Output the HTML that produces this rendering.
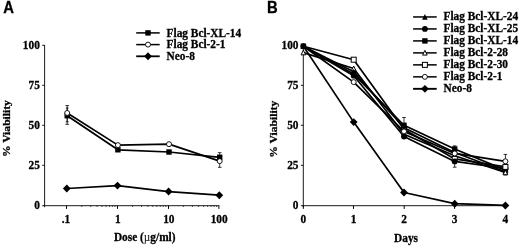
<!DOCTYPE html>
<html><head><meta charset="utf-8"><title>Viability</title>
<style>html,body{margin:0;padding:0;background:#fff}svg{display:block;will-change:transform}text{font-family:"Liberation Serif",serif;font-weight:bold;font-size:12.2px;fill:#000;stroke:#000;stroke-width:0.3px}.s{font-family:"Liberation Sans",sans-serif;font-size:15.6px;stroke-width:0.3px}.r{font-size:11.6px}</style></head><body>
<svg width="520" height="246" viewBox="0 0 520 246">
<path d="M44.6 45V207.2" stroke="#000" stroke-width="0.9" fill="none"/>
<path d="M42.2 205.7H219.3" stroke="#000" stroke-width="0.9" fill="none"/>
<path d="M42.2 165.30H44.6M42.2 125.30H44.6M42.2 85.30H44.6M42.2 45.30H44.6" stroke="#000" stroke-width="0.9" fill="none"/>
<path d="M66.5 205.7V208.89999999999998M117.5 205.7V208.89999999999998M168.5 205.7V208.89999999999998M218.9 205.7V208.89999999999998" stroke="#000" stroke-width="1" fill="none"/>
<path d="M81.79 205.7V207.0M90.74 205.7V207.0M97.08 205.7V207.0M102.01 205.7V207.0M106.03 205.7V207.0M109.43 205.7V207.0M112.38 205.7V207.0M114.98 205.7V207.0M132.59 205.7V207.0M141.54 205.7V207.0M147.88 205.7V207.0M152.81 205.7V207.0M156.83 205.7V207.0M160.23 205.7V207.0M163.18 205.7V207.0M165.78 205.7V207.0M183.39 205.7V207.0M192.34 205.7V207.0M198.68 205.7V207.0M203.61 205.7V207.0M207.63 205.7V207.0M211.03 205.7V207.0M213.98 205.7V207.0M216.58 205.7V207.0" stroke="#000" stroke-width="0.7" fill="none"/>
<text transform="translate(39.80 209.10) scale(0.93 1)" text-anchor="end">0</text>
<text transform="translate(39.80 169.10) scale(0.93 1)" text-anchor="end">25</text>
<text transform="translate(39.80 129.10) scale(0.93 1)" text-anchor="end">50</text>
<text transform="translate(39.80 89.10) scale(0.93 1)" text-anchor="end">75</text>
<text transform="translate(39.80 49.10) scale(0.93 1)" text-anchor="end">100</text>
<text transform="translate(66.00 223.20) scale(0.93 1)" text-anchor="middle">.1</text>
<text transform="translate(117.80 223.20) scale(0.93 1)" text-anchor="middle">1</text>
<text transform="translate(168.80 223.20) scale(0.93 1)" text-anchor="middle">10</text>
<text transform="translate(219.20 223.20) scale(0.93 1)" text-anchor="middle">100</text>
<text transform="translate(144.70 240.60) scale(0.93 1)" text-anchor="middle">Dose (<tspan font-weight="normal" stroke="none">µ</tspan>g/ml)</text>
<text transform="translate(9.70 128.60) rotate(-90) scale(1 0.92)" text-anchor="middle" class="r">% Viability</text>
<text class="s" transform="translate(3.2 12.8) scale(0.95 1)">A</text>
<path d="M67.20 105.60V124.30M65.40 105.60H69.00M65.40 124.30H69.00" stroke="#000" stroke-width="0.8" fill="none"/>
<path d="M67.20 108.00V121.80M65.80 108.00H68.60M65.80 121.80H68.60" stroke="#000" stroke-width="0.8" fill="none"/>
<path d="M219.70 152.70V167.30M217.90 152.70H221.50M217.90 167.30H221.50" stroke="#000" stroke-width="0.8" fill="none"/>
<polyline points="67.20,115.70 117.90,149.78 169.00,152.02 219.70,157.30" fill="none" stroke="#000" stroke-width="1.7" stroke-linejoin="round"/>
<polyline points="67.20,112.98 117.90,145.14 169.00,144.18 219.70,161.14" fill="none" stroke="#000" stroke-width="1.7" stroke-linejoin="round"/>
<polyline points="66.80,188.50 117.50,185.62 168.60,191.54 219.30,195.22" fill="none" stroke="#000" stroke-width="1.7" stroke-linejoin="round"/>
<rect x="64.50" y="113.00" width="5.4" height="5.4" fill="#000" stroke="#000" stroke-width="0"/>
<rect x="115.20" y="147.08" width="5.4" height="5.4" fill="#000" stroke="#000" stroke-width="0"/>
<rect x="166.30" y="149.32" width="5.4" height="5.4" fill="#000" stroke="#000" stroke-width="0"/>
<rect x="217.00" y="154.60" width="5.4" height="5.4" fill="#000" stroke="#000" stroke-width="0"/>
<circle cx="67.20" cy="112.98" r="2.5" fill="#fff" stroke="#000" stroke-width="0.9"/>
<circle cx="117.90" cy="145.14" r="2.5" fill="#fff" stroke="#000" stroke-width="0.9"/>
<circle cx="169.00" cy="144.18" r="2.5" fill="#fff" stroke="#000" stroke-width="0.9"/>
<circle cx="219.70" cy="161.14" r="2.5" fill="#fff" stroke="#000" stroke-width="0.9"/>
<path d="M66.80 184.55L70.70 188.50L66.80 192.45L62.90 188.50Z" fill="#000"/>
<path d="M117.50 181.67L121.40 185.62L117.50 189.57L113.60 185.62Z" fill="#000"/>
<path d="M168.60 187.59L172.50 191.54L168.60 195.49L164.70 191.54Z" fill="#000"/>
<path d="M219.30 191.27L223.20 195.22L219.30 199.17L215.40 195.22Z" fill="#000"/>
<path d="M136.2 32.90H159.7" stroke="#000" stroke-width="1.5"/>
<rect x="145.30" y="30.20" width="5.4" height="5.4" fill="#000" stroke="#000" stroke-width="0"/>
<text transform="translate(166.60 36.50) scale(0.93 1)">Flag Bcl-XL-14</text>
<path d="M136.2 44.60H159.7" stroke="#000" stroke-width="1.5"/>
<circle cx="148.00" cy="44.60" r="2.5" fill="#fff" stroke="#000" stroke-width="0.9"/>
<text transform="translate(166.60 48.20) scale(0.93 1)">Flag Bcl-2-1</text>
<path d="M136.2 56.30H159.7" stroke="#000" stroke-width="1.8"/>
<path d="M148.00 52.35L151.90 56.30L148.00 60.25L144.10 56.30Z" fill="#000"/>
<text transform="translate(166.60 59.90) scale(0.93 1)">Neo-8</text>
<path d="M303.3 45V207.2" stroke="#000" stroke-width="0.9" fill="none"/>
<path d="M300.90000000000003 205.7H505.79999999999995" stroke="#000" stroke-width="0.9" fill="none"/>
<path d="M300.90000000000003 165.30H303.3M300.90000000000003 125.30H303.3M300.90000000000003 85.30H303.3M300.90000000000003 45.30H303.3" stroke="#000" stroke-width="0.9" fill="none"/>
<path d="M303.3 205.7V208.89999999999998M353.5 205.7V208.89999999999998M404.2 205.7V208.89999999999998M454.6 205.7V208.89999999999998M505.4 205.7V208.89999999999998" stroke="#000" stroke-width="1" fill="none"/>
<text transform="translate(298.50 209.10) scale(0.93 1)" text-anchor="end">0</text>
<text transform="translate(298.50 169.10) scale(0.93 1)" text-anchor="end">25</text>
<text transform="translate(298.50 129.10) scale(0.93 1)" text-anchor="end">50</text>
<text transform="translate(298.50 89.10) scale(0.93 1)" text-anchor="end">75</text>
<text transform="translate(298.50 49.10) scale(0.93 1)" text-anchor="end">100</text>
<text transform="translate(303.40 223.20) scale(0.93 1)" text-anchor="middle">0</text>
<text transform="translate(353.70 223.20) scale(0.93 1)" text-anchor="middle">1</text>
<text transform="translate(404.00 223.20) scale(0.93 1)" text-anchor="middle">2</text>
<text transform="translate(454.70 223.20) scale(0.93 1)" text-anchor="middle">3</text>
<text transform="translate(505.40 223.20) scale(0.93 1)" text-anchor="middle">4</text>
<text transform="translate(406.00 241.50) scale(0.93 1)" text-anchor="middle">Days</text>
<text transform="translate(276.80 129.20) rotate(-90) scale(1 0.92)" text-anchor="middle" class="r">% Viability</text>
<text class="s" transform="translate(267.0 12.6) scale(0.95 1)">B</text>
<path d="M404.00 117.50V128.00M402.20 117.50H405.80M402.20 128.00H405.80" stroke="#000" stroke-width="0.8" fill="none"/>
<path d="M454.70 145.90V167.20M452.90 145.90H456.50M452.90 167.20H456.50" stroke="#000" stroke-width="0.8" fill="none"/>
<path d="M505.40 154.40V175.00M503.60 154.40H507.20M503.60 175.00H507.20" stroke="#000" stroke-width="0.8" fill="none"/>
<polyline points="303.40,46.26 353.70,71.70 404.00,127.70 454.70,152.50 505.40,171.70" fill="none" stroke="#000" stroke-width="1.7" stroke-linejoin="round"/>
<polyline points="303.40,46.26 353.70,75.70 404.00,136.50 454.70,161.46 505.40,168.50" fill="none" stroke="#000" stroke-width="1.7" stroke-linejoin="round"/>
<polyline points="303.40,46.26 353.70,74.10 404.00,125.30 454.70,148.98 505.40,170.10" fill="none" stroke="#000" stroke-width="1.7" stroke-linejoin="round"/>
<polyline points="303.40,52.66 353.70,68.50 404.00,134.26 454.70,155.70 505.40,172.50" fill="none" stroke="#000" stroke-width="1.7" stroke-linejoin="round"/>
<polyline points="303.40,46.26 353.70,59.70 404.00,129.30 454.70,158.90 505.40,166.90" fill="none" stroke="#000" stroke-width="1.7" stroke-linejoin="round"/>
<polyline points="303.40,46.26 353.70,82.10 404.00,131.38 454.70,153.46 505.40,161.30" fill="none" stroke="#000" stroke-width="1.7" stroke-linejoin="round"/>
<polyline points="303.40,46.26 353.70,122.10 404.00,192.50 454.70,203.70 505.40,205.46" fill="none" stroke="#000" stroke-width="1.7" stroke-linejoin="round"/>
<path d="M303.40 50.16L305.70 54.86L301.10 54.86Z" fill="#fff" stroke="#000" stroke-width="1"/>
<path d="M303.40 43.26L306.20 48.96L300.60 48.96Z" fill="#000"/>
<circle cx="303.40" cy="46.26" r="2.9" fill="#000" stroke="#000" stroke-width="0"/>
<rect x="300.70" y="43.56" width="5.4" height="5.4" fill="#000" stroke="#000" stroke-width="0"/>
<path d="M353.70 118.15L357.60 122.10L353.70 126.05L349.80 122.10Z" fill="#000"/>
<path d="M353.70 66.00L356.00 70.70L351.40 70.70Z" fill="#fff" stroke="#000" stroke-width="1"/>
<rect x="351.20" y="57.20" width="5.0" height="5.0" fill="#fff" stroke="#000" stroke-width="1"/>
<path d="M353.70 68.70L356.50 74.40L350.90 74.40Z" fill="#000"/>
<circle cx="353.70" cy="75.70" r="2.9" fill="#000" stroke="#000" stroke-width="0"/>
<rect x="351.00" y="71.40" width="5.4" height="5.4" fill="#000" stroke="#000" stroke-width="0"/>
<circle cx="353.70" cy="82.10" r="2.5" fill="#fff" stroke="#000" stroke-width="0.9"/>
<path d="M404.00 188.55L407.90 192.50L404.00 196.45L400.10 192.50Z" fill="#000"/>
<path d="M404.00 131.76L406.30 136.46L401.70 136.46Z" fill="#fff" stroke="#000" stroke-width="1"/>
<rect x="401.50" y="126.80" width="5.0" height="5.0" fill="#fff" stroke="#000" stroke-width="1"/>
<path d="M404.00 124.70L406.80 130.40L401.20 130.40Z" fill="#000"/>
<circle cx="404.00" cy="136.50" r="2.9" fill="#000" stroke="#000" stroke-width="0"/>
<rect x="401.30" y="122.60" width="5.4" height="5.4" fill="#000" stroke="#000" stroke-width="0"/>
<circle cx="404.00" cy="131.38" r="2.5" fill="#fff" stroke="#000" stroke-width="0.9"/>
<path d="M454.70 199.75L458.60 203.70L454.70 207.65L450.80 203.70Z" fill="#000"/>
<path d="M454.70 153.20L457.00 157.90L452.40 157.90Z" fill="#fff" stroke="#000" stroke-width="1"/>
<rect x="452.20" y="156.40" width="5.0" height="5.0" fill="#fff" stroke="#000" stroke-width="1"/>
<path d="M454.70 149.50L457.50 155.20L451.90 155.20Z" fill="#000"/>
<circle cx="454.70" cy="161.46" r="2.9" fill="#000" stroke="#000" stroke-width="0"/>
<rect x="452.00" y="146.28" width="5.4" height="5.4" fill="#000" stroke="#000" stroke-width="0"/>
<circle cx="454.70" cy="153.46" r="2.5" fill="#fff" stroke="#000" stroke-width="0.9"/>
<path d="M505.40 201.51L509.30 205.46L505.40 209.41L501.50 205.46Z" fill="#000"/>
<path d="M505.40 168.70L508.20 174.40L502.60 174.40Z" fill="#000"/>
<circle cx="505.40" cy="168.50" r="2.9" fill="#000" stroke="#000" stroke-width="0"/>
<rect x="502.70" y="167.40" width="5.4" height="5.4" fill="#000" stroke="#000" stroke-width="0"/>
<path d="M505.40 170.00L507.70 174.70L503.10 174.70Z" fill="#fff" stroke="#000" stroke-width="1"/>
<rect x="502.90" y="164.40" width="5.0" height="5.0" fill="#fff" stroke="#000" stroke-width="1"/>
<circle cx="505.40" cy="161.30" r="2.5" fill="#fff" stroke="#000" stroke-width="0.9"/>
<path d="M413.1 16.95H436.7" stroke="#000" stroke-width="1.5"/>
<path d="M424.90 13.95L427.70 19.65L422.10 19.65Z" fill="#000"/>
<text transform="translate(443.50 20.35) scale(0.93 1)">Flag Bcl-XL-24</text>
<path d="M413.1 28.93H436.7" stroke="#000" stroke-width="1.5"/>
<circle cx="424.90" cy="28.93" r="2.9" fill="#000" stroke="#000" stroke-width="0"/>
<text transform="translate(443.50 32.33) scale(0.93 1)">Flag Bcl-XL-25</text>
<path d="M413.1 40.91H436.7" stroke="#000" stroke-width="1.5"/>
<rect x="422.20" y="38.21" width="5.4" height="5.4" fill="#000" stroke="#000" stroke-width="0"/>
<text transform="translate(443.50 44.31) scale(0.93 1)">Flag Bcl-XL-14</text>
<path d="M413.1 52.89H436.7" stroke="#000" stroke-width="1.5"/>
<path d="M424.90 50.39L427.20 55.09L422.60 55.09Z" fill="#fff" stroke="#000" stroke-width="1"/>
<text transform="translate(443.50 56.29) scale(0.93 1)">Flag Bcl-2-28</text>
<path d="M413.1 64.87H436.7" stroke="#000" stroke-width="1.5"/>
<rect x="422.40" y="62.37" width="5.0" height="5.0" fill="#fff" stroke="#000" stroke-width="1"/>
<text transform="translate(443.50 68.27) scale(0.93 1)">Flag Bcl-2-30</text>
<path d="M413.1 76.85H436.7" stroke="#000" stroke-width="1.5"/>
<circle cx="424.90" cy="76.85" r="2.5" fill="#fff" stroke="#000" stroke-width="0.9"/>
<text transform="translate(443.50 80.25) scale(0.93 1)">Flag Bcl-2-1</text>
<path d="M413.1 88.83H436.7" stroke="#000" stroke-width="1.9"/>
<path d="M424.90 84.88L428.80 88.83L424.90 92.78L421.00 88.83Z" fill="#000"/>
<text transform="translate(443.50 92.23) scale(0.93 1)">Neo-8</text>
</svg></body></html>
